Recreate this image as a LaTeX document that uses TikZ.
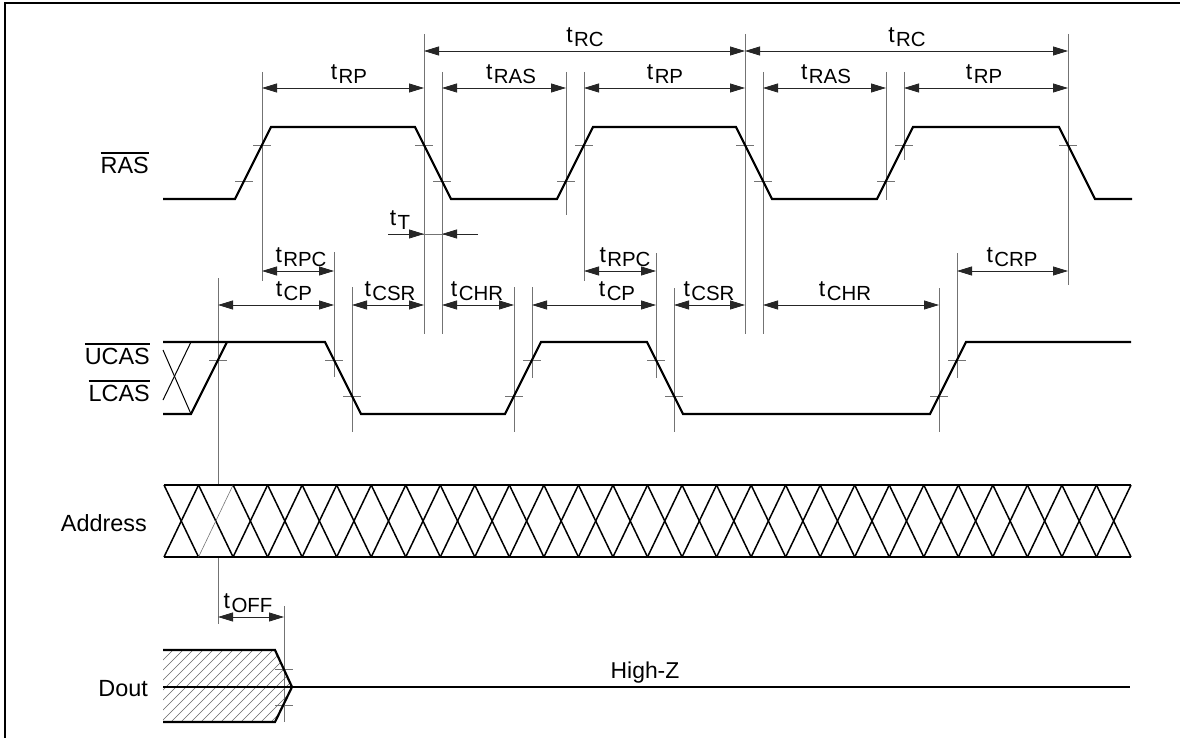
\documentclass[tikz,border=0pt]{standalone}
\usepackage{fontspec}
\setmainfont{Liberation Sans}
\usetikzlibrary{arrows.meta}
\newcommand\tlab[1]{{\fontsize{23}{23}\selectfont t}\hspace{1.5pt}\raisebox{-4pt}{\fontsize{20.5}{20.5}\selectfont #1}}
\newcommand\ovl[1]{\leavevmode\vbox{\hrule height 1.3pt\kern 3pt\hbox{#1}}}
\begin{document}
\begin{tikzpicture}[x=1bp,y=-1bp,
 wave/.style={line width=2.2bp, line join=miter},
 ext/.style={line width=0.8bp, black!55},
 tickm/.style={line width=0.8bp, black!55},
 dim/.style={line width=0.8bp, black!85, {Triangle[length=15bp,width=9bp]}-{Triangle[length=15bp,width=9bp]}},
 onetip/.style={line width=0.8bp, black!85, -{Triangle[length=15bp,width=9bp]}},
 tl/.style={anchor=south, inner sep=0pt},
 sig/.style={anchor=base east, inner sep=0pt, font=\fontsize{23.5}{23.5}\selectfont},
 adr/.style={line width=1.5bp},
 hatch/.style={line width=0.6bp, black!60},
]
\useasboundingbox (0,0) rectangle (1180,738);
% frame
\draw[line width=1.6bp] (5,738) -- (5,3) -- (1180,3);

% extension lines
\draw[ext] (262,72) -- (262,281);
\draw[ext] (424,34) -- (424,334);
\draw[ext] (442,72) -- (442,334);
\draw[ext] (566,72) -- (566,215);
\draw[ext] (584,72) -- (584,281);
\draw[ext] (745,34) -- (745,334);
\draw[ext] (763,72) -- (763,334);
\draw[ext] (886,72) -- (886,200);
\draw[ext] (904,72) -- (904,160);
\draw[ext] (1068,34) -- (1068,285);
\draw[ext] (218,278) -- (218,485);
\draw[ext] (218,557) -- (218,624);
\draw[ext] (334,252) -- (334,377);
\draw[ext] (352,287) -- (352,432);
\draw[ext] (514,287) -- (514,432);
\draw[ext] (532,287) -- (532,378);
\draw[ext] (656,253) -- (656,378);
\draw[ext] (674,288) -- (674,432);
\draw[ext] (939,288) -- (939,432);
\draw[ext] (957,253) -- (957,378);
\draw[ext] (284,606) -- (284,722);

% ticks
\foreach \x/\y in {244/181,262/145,424/145,442/181,566/181,584/145,745/145,763/181,886/181,904/145,1068/145,
  218/360,334/360,352/396,514/396,532/360,656/360,674/396,939/396,957/360,284/669,284/705}
  \draw[tickm] (\x-9,\y) -- (\x+9,\y);

% RAS
\draw[wave] (163,199) -- (235,199) -- (271,127) -- (415,127) -- (451,199) -- (557,199) -- (593,127)
  -- (736,127) -- (772,199) -- (877,199) -- (913,127) -- (1059,127) -- (1095,199) -- (1132,199);

% CAS
\draw[wave] (163,342) -- (325,342) -- (361,414) -- (505,414) -- (541,342) -- (647,342) -- (683,414)
  -- (930,414) -- (966,342) -- (1131,342);
\draw[wave] (163,414) -- (191,414) -- (227,342);
\draw[line width=1bp] (191,342) -- (163,400);
\draw[line width=1bp] (163,350) -- (191,414);

% Address
\draw[wave] (164,485) -- (1131,485);
\draw[wave] (164,557) -- (1131,557);
\foreach \i in {0,...,27} {
  \pgfmathsetmacro\xa{164+\i*34.536}
  \pgfmathsetmacro\xb{164+(\i+1)*34.536}
  \draw[adr] (\xa,485) -- (\xb,557);
  \ifnum\i=1
    \draw[line width=0.6bp, black!55] (\xa,557) -- (\xb,485);
  \else
    \draw[adr] (\xa,557) -- (\xb,485);
  \fi
}

% Dout
\begin{scope}
  \clip (163,650) -- (275,650) -- (292,687) -- (275,722) -- (163,722) -- cycle;
  \foreach \x in {81,91,...,301} \draw[hatch] (\x,722) -- (\x+72,650);
\end{scope}
\draw[wave] (163,650) -- (275,650) -- (292,687) -- (275,722) -- (163,722);
\draw[line width=1.6bp] (163,687) -- (1130,687);

% dimension arrows
\coordinate (a424t) at (424,51); \coordinate (a745t) at (745,51); \coordinate (a1068t) at (1068,51);
\draw[dim] (a424t) -- (a745t);
\draw[dim] (a745t) -- (a1068t);
\coordinate (b262) at (262,88); \coordinate (b424) at (424,88); \coordinate (b442) at (442,88);
\coordinate (b566) at (566,88); \coordinate (b584) at (584,88); \coordinate (b745) at (745,88);
\coordinate (b763) at (763,88); \coordinate (b886) at (886,88); \coordinate (b904) at (904,88);
\coordinate (b1068) at (1068,88);
\draw[dim] (b262) -- (b424);
\draw[dim] (b442) -- (b566);
\draw[dim] (b584) -- (b745);
\draw[dim] (b763) -- (b886);
\draw[dim] (b904) -- (b1068);
% tT
\coordinate (tt1) at (388,234); \coordinate (tt2) at (424,234); \coordinate (tt3) at (442,234); \coordinate (tt4) at (478,234);
\draw[line width=0.8bp, black!55] (tt1) -- (tt4);
\draw[onetip] (tt1) -- (tt2);
\draw[onetip] (tt4) -- (tt3);
% RPC / CRP
\coordinate (c262) at (262,271); \coordinate (c334) at (334,271);
\coordinate (c584) at (584,271); \coordinate (c656) at (656,271);
\coordinate (c957) at (957,271); \coordinate (c1068) at (1068,271);
\draw[dim] (c262) -- (c334);
\draw[dim] (c584) -- (c656);
\draw[dim] (c957) -- (c1068);
% CP / CSR / CHR
\coordinate (d218) at (218,305); \coordinate (d334) at (334,305); \coordinate (d352) at (352,305);
\coordinate (d424) at (424,305); \coordinate (d442) at (442,305); \coordinate (d514) at (514,305);
\coordinate (d532) at (532,305); \coordinate (d656) at (656,305); \coordinate (d674) at (674,305);
\coordinate (d745) at (745,305); \coordinate (d763) at (763,305); \coordinate (d939) at (939,305);
\draw[dim] (d218) -- (d334);
\draw[dim] (d352) -- (d424);
\draw[dim] (d442) -- (d514);
\draw[dim] (d532) -- (d656);
\draw[dim] (d674) -- (d745);
\draw[dim] (d763) -- (d939);
% OFF
\coordinate (e218) at (218,617); \coordinate (e284) at (284,617);
\draw[dim] (e218) -- (e284);

% timing labels
\node[tl] (lrc1) at (585,47) {\tlab{RC}};
\node[tl] (lrc2) at (907,47) {\tlab{RC}};
\node[tl] (lrp1) at (349,84) {\tlab{RP}};
\node[tl] (lras1) at (511,84) {\tlab{RAS}};
\node[tl] (lrp2) at (665,84) {\tlab{RP}};
\node[tl] (lras2) at (826,84) {\tlab{RAS}};
\node[tl] (lrp3) at (984,84) {\tlab{RP}};
\node[tl] (lt) at (400,230) {\tlab{T}};
\node[tl] (lrpc1) at (301,267) {\tlab{RPC}};
\node[tl] (lrpc2) at (625,267) {\tlab{RPC}};
\node[tl] (lcrp) at (1012,267) {\tlab{CRP}};
\node[tl] (lcp1) at (294,301) {\tlab{CP}};
\node[tl] (lcsr1) at (390,301) {\tlab{CSR}};
\node[tl] (lchr1) at (477,301) {\tlab{CHR}};
\node[tl] (lcp2) at (617,301) {\tlab{CP}};
\node[tl] (lcsr2) at (709,301) {\tlab{CSR}};
\node[tl] (lchr2) at (845,301) {\tlab{CHR}};
\node[tl] (loff) at (248,613) {\tlab{OFF}};

% signal labels
\node[sig] (sras) at (149,173) {\ovl{RAS}};
\node[sig] (sucas) at (150,364) {\ovl{UCAS}};
\node[sig] (slcas) at (150,401) {\ovl{LCAS}};
\node[sig] (saddr) at (147,531) {Address};
\node[sig] (sdout) at (148,696) {Dout};
\node[anchor=base, inner sep=0pt, font=\fontsize{23}{23}\selectfont] (hz) at (645,678) {High-Z};
\end{tikzpicture}
\end{document}
